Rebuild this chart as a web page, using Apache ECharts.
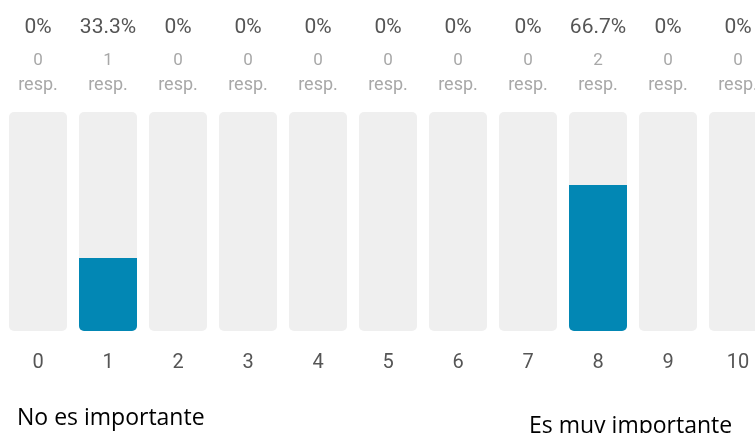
<!DOCTYPE html>
<html><head><meta charset="utf-8">
<script src="https://cdn.jsdelivr.net/npm/echarts@6/dist/echarts.min.js"></script>
<style>html,body{margin:0;padding:0;background:#fff;overflow:hidden;width:755px;height:433px}#c{width:773px;height:433px}</style>
</head><body><div id="c"></div>
<script>
const categories = ['0','1','2','3','4','5','6','7','8','9','10'];
const percents = [0, 33.3, 0, 0, 0, 0, 0, 0, 66.7, 0, 0];
const counts = [0, 1, 0, 0, 0, 0, 0, 0, 2, 0, 0];
const percentLabels = ['0%','33.3%','0%','0%','0%','0%','0%','0%','66.7%','0%','0%'];
const leftNote = 'No es importante';
const rightNote = 'Es muy importante';

const chart = echarts.init(document.getElementById('c'));
chart.setOption({
  animation: false,
  grid: { left: 3, right: 0, top: 112, height: 219, containLabel: false },
  title: [
    { text: leftNote, left: 12, top: 402, textStyle: { fontFamily: 'Open Sans', fontWeight: 'normal', fontSize: 23, color: '#000' } },
    { text: rightNote, left: 524, top: 410, textStyle: { fontFamily: 'Open Sans', fontWeight: 'normal', fontSize: 23, color: '#000' } }
  ],
  xAxis: [
    { type: 'category', data: categories, position: 'bottom',
      axisLine: { show: false }, axisTick: { show: false },
      axisLabel: { margin: 22, fontFamily: 'Roboto', fontSize: 20, color: '#555' } },
    { type: 'category', data: categories, position: 'top',
      axisLine: { show: false }, axisTick: { show: false },
      axisLabel: { margin: 15,
        formatter: (v, i) => '{p|' + percentLabels[i] + '}\n{c|' + counts[i] + '}\n{r|resp.}',
        rich: {
          p: { fontFamily: 'Roboto', fontSize: 21, color: '#555', lineHeight: 42 },
          c: { fontFamily: 'Roboto', fontSize: 17, color: '#a8a8a8', lineHeight: 24 },
          r: { fontFamily: 'Roboto', fontSize: 18, color: '#a8a8a8', lineHeight: 24 }
        } } }
  ],
  yAxis: { type: 'value', min: 0, max: 100, show: false },
  series: [{
    type: 'bar', data: percents, barWidth: 58,
    showBackground: true,
    backgroundStyle: { color: '#efefef', borderRadius: 5 },
    itemStyle: { color: '#0287b4', borderRadius: [0, 0, 5, 5] }
  }]
});
</script></body></html>
